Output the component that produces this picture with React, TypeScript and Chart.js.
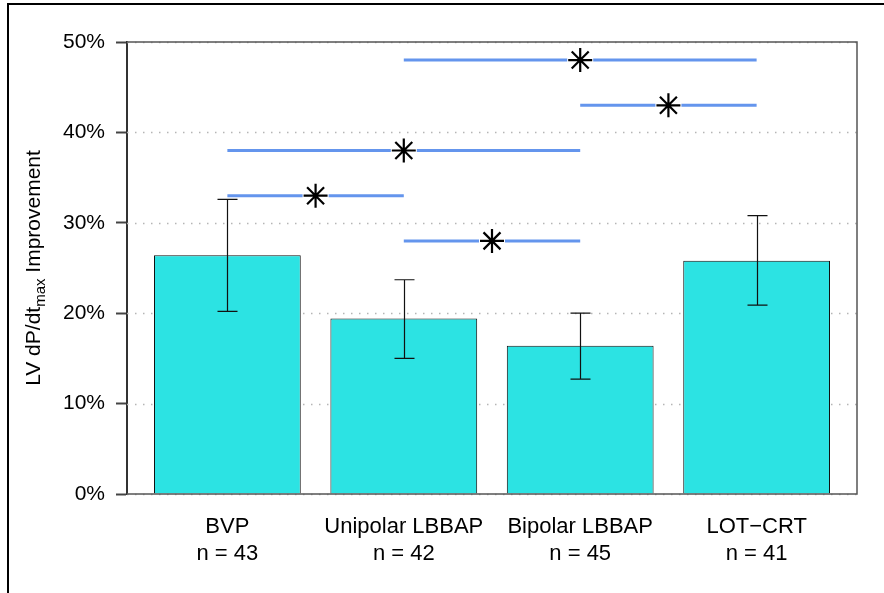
import React, { useEffect, useRef } from "react";
import { Chart, registerables } from "chart.js";

Chart.register(...registerables);

// ---- data ----
const categories = ["BVP", "Unipolar LBBAP", "Bipolar LBBAP", "LOT\u2212CRT"];
const sampleSizes = [43, 42, 45, 41];
const means = [26.4, 19.4, 16.4, 25.8];
const lower = [20.2, 15.0, 12.7, 20.9];
const upper = [32.6, 23.7, 20.0, 30.8];
// significance comparisons (category index from -> to, height in %)
const compFrom = [1, 2, 0, 0, 1];
const compTo = [3, 3, 2, 1, 2];
const compY = [48, 43, 38, 33, 28];
const yTicks = [0, 10, 20, 30, 40, 50];

const FONT = "'Liberation Sans', Arial, Helvetica, sans-serif";

const customPlugin = {
  id: "custom",
  beforeDatasetsDraw(chart: any) {
    const { ctx, chartArea, scales } = chart;
    const { left, right } = chartArea;
    const x = scales.x;
    const y = scales.y;
    ctx.save();
    // dotted grid lines
    ctx.strokeStyle = "#b5b5b5";
    ctx.lineWidth = 1.5;
    ctx.setLineDash([1.5, 6.5]);
    yTicks.forEach((v) => {
      const py = Math.round(y.getPixelForValue(v)) + 0.5;
      ctx.beginPath();
      ctx.moveTo(left, py);
      ctx.lineTo(right, py);
      ctx.stroke();
    });
    ctx.setLineDash([]);
    // comparison lines
    ctx.strokeStyle = "#6495ED";
    ctx.lineWidth = 3;
    compY.forEach((v, i) => {
      const x1 = x.getPixelForValue(compFrom[i]);
      const x2 = x.getPixelForValue(compTo[i]);
      const xm = x.getPixelForValue((compFrom[i] + compTo[i]) / 2);
      const py = y.getPixelForValue(v);
      ctx.beginPath();
      ctx.moveTo(x1, py);
      ctx.lineTo(xm - 13, py);
      ctx.moveTo(xm + 13, py);
      ctx.lineTo(x2, py);
      ctx.stroke();
    });
    ctx.restore();
  },
  afterDatasetsDraw(chart: any) {
    const { ctx, chartArea, scales } = chart;
    const { left, right, top, bottom } = chartArea;
    const x = scales.x;
    const y = scales.y;
    ctx.save();
    // box
    ctx.strokeStyle = "#555";
    ctx.lineWidth = 1.5;
    ctx.beginPath();
    ctx.moveTo(left, top);
    ctx.lineTo(right, top);
    ctx.lineTo(right, bottom);
    ctx.lineTo(left, bottom);
    ctx.stroke();
    // error bars
    ctx.strokeStyle = "#111";
    ctx.lineWidth = 1.2;
    means.forEach((_, i) => {
      const px = Math.round(x.getPixelForValue(i)) + 0.5;
      const pl = y.getPixelForValue(lower[i]);
      const pu = y.getPixelForValue(upper[i]);
      ctx.beginPath();
      ctx.moveTo(px, pu);
      ctx.lineTo(px, pl);
      ctx.moveTo(px - 10, pu);
      ctx.lineTo(px + 10, pu);
      ctx.moveTo(px - 10, pl);
      ctx.lineTo(px + 10, pl);
      ctx.stroke();
    });
    ctx.restore();
  },
  afterDraw(chart: any) {
    const { ctx, chartArea } = chart;
    const cy = (chartArea.top + chartArea.bottom) / 2;
    ctx.save();
    // outer frame
    ctx.fillStyle = "#000";
    ctx.fillRect(7, 3, 2, 590);
    ctx.fillRect(7, 3, 877, 2);
    // y-axis title with subscript
    ctx.translate(40, cy);
    ctx.rotate(-Math.PI / 2);
    ctx.fillStyle = "#000";
    ctx.textBaseline = "alphabetic";
    ctx.textAlign = "left";
    const mainFont = `21px ${FONT}`;
    const subFont = `15px ${FONT}`;
    const p1 = "LV dP/dt";
    const p2 = "max";
    const p3 = " Improvement";
    ctx.font = mainFont;
    const w1 = ctx.measureText(p1).width;
    const w3 = ctx.measureText(p3).width;
    ctx.font = subFont;
    const w2 = ctx.measureText(p2).width;
    let sx = -(w1 + w2 + w3) / 2;
    ctx.font = mainFont;
    ctx.fillText(p1, sx, 0);
    sx += w1;
    ctx.font = subFont;
    ctx.fillText(p2, sx, 5);
    sx += w2;
    ctx.font = mainFont;
    ctx.fillText(p3, sx, 0);
    ctx.restore();
  },
};

export default function App() {
  const canvasRef = useRef<HTMLCanvasElement | null>(null);

  useEffect(() => {
    if (!canvasRef.current) return;
    const chart = new Chart(canvasRef.current, {
      type: "bar",
      data: {
        datasets: [
          {
            type: "scatter",
            data: compY.map((v, i) => ({ x: (compFrom[i] + compTo[i]) / 2, y: v })),
            pointStyle: "star",
            radius: 12,
            borderColor: "#000",
            backgroundColor: "#000",
            borderWidth: 2.2,
            order: 0,
          } as any,
          {
            type: "bar",
            data: means.map((m, i) => ({ x: i, y: m })),
            backgroundColor: "#2CE3E3",
            borderColor: "#111",
            borderWidth: 1,
            barPercentage: 0.832,
            categoryPercentage: 1,
            order: 1,
          } as any,
        ],
      },
      options: {
        animation: false,
        responsive: false,
        maintainAspectRatio: false,
        layout: { padding: { left: 0, top: 42, right: 27, bottom: 0 } },
        plugins: {
          legend: { display: false },
          tooltip: { enabled: false },
          title: { display: false },
        },
        scales: {
          x: {
            type: "linear",
            offset: false,
            grace: 0,
            min: -0.569,
            max: 3.569,
            afterBuildTicks: (s: any) => {
              s.ticks = categories.map((_, i) => ({ value: i }));
            },
            afterFit: (s: any) => {
              s.height = 99;
            },
            ticks: {
              callback: (_v: any, i: number) => [categories[i], "n = " + sampleSizes[i]],
              font: { family: FONT, size: 22, lineHeight: 1.25 },
              color: "#000",
              padding: 11,
              maxRotation: 0,
              autoSkip: false,
            },
            grid: { display: false, offset: false },
            border: { display: false },
          },
          y: {
            min: 0,
            max: 50,
            afterBuildTicks: (s: any) => {
              s.ticks = yTicks.map((v) => ({ value: v }));
            },
            afterFit: (s: any) => {
              s.width = 127;
            },
            ticks: {
              callback: (v: any) => v + "%",
              font: { family: FONT, size: 21 },
              color: "#000",
              padding: 11,
            },
            grid: {
              drawOnChartArea: false,
              drawTicks: true,
              tickLength: 11,
              tickColor: "#444",
              tickWidth: 2,
              tickBorderDash: [],
            },
            border: { display: true, color: "#333", width: 2 },
          },
        },
      } as any,
      plugins: [customPlugin],
    });
    return () => chart.destroy();
  }, []);

  return (
    <div style={{ position: "absolute", left: 0, top: 0, width: 884, height: 593, background: "#fff" }}>
      <canvas ref={canvasRef} width={884} height={593} style={{ display: "block" }} />
    </div>
  );
}
